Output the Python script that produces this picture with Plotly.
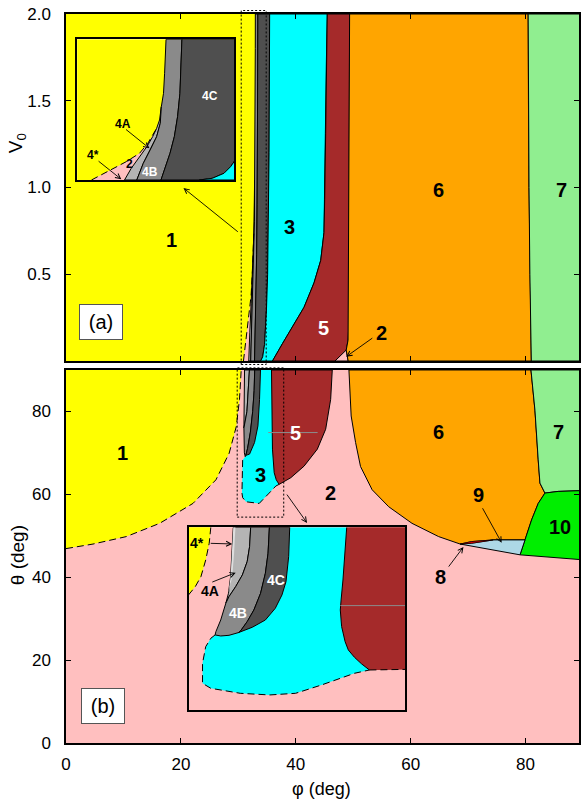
import plotly.graph_objects as go

FONT = "Liberation Sans, Arial, Helvetica, sans-serif"

# ---------------- axis ranges ----------------
PHI_RANGE = [0, 89.3]
V0_RANGE = [0, 2.0]
TH_RANGE = [0, 90]
INSET_A_PHI = [30.5, 34.85]
INSET_A_V0 = [0, 2.0]
INSET_B_PHI = [29.8, 37.9]
INSET_B_TH = [54.5, 90]
PHI_EDGE = 90.0

# ---------------- panel (a): phase boundaries, (phi [deg], V0) ----------------
# yellow / pink boundary (dashed), bottom -> apex
a_dash_phi = [30.895, 31.40, 31.86, 32.225, 32.455, 32.59, 32.70]
a_dash_v = [0.0, 0.133, 0.261, 0.379, 0.521, 0.640, 0.735]
# left edge of the grey band, apex -> top
a_gleft_phi = [32.70, 32.78, 32.83, 32.89, 32.92, 32.95, 32.96]
a_gleft_v = [0.735, 0.853, 1.043, 1.232, 1.517, 1.801, 2.0]
# pink / 4A, apex -> bottom
a_pr_phi = [32.70, 32.59, 32.43, 32.225, 31.996, 31.81]
a_pr_v = [0.735, 0.616, 0.474, 0.332, 0.166, 0.0]
# 4A / 4B, tip -> bottom
a_ab_phi = [32.83, 32.80, 32.70, 32.52, 32.33, 32.15]
a_ab_v = [1.043, 0.806, 0.616, 0.427, 0.237, 0.0]
# 4B / 4C, top -> bottom
a_bc_phi = [33.40, 33.38, 33.345, 33.28, 33.19, 33.07, 32.94, 32.82]
a_bc_v = [2.0, 1.611, 1.232, 0.900, 0.616, 0.379, 0.190, 0.0]
# 4C / 3, bottom -> top
a_cc_phi = [33.88, 34.24, 34.565, 34.75, 34.9, 35.1, 35.25, 35.35, 35.45]
a_cc_v = [0.0, 0.024, 0.095, 0.19, 0.3, 0.5, 0.8, 1.2, 2.0]
# 3 / 5, top -> bottom
a_cb_phi = [45.48, 45.31, 45.2, 45.03, 44.91, 44.34, 43.17, 41.44, 39.41, 37.68, 35.94]
a_cb_v = [2.0, 1.70, 1.31, 0.93, 0.74, 0.58, 0.45, 0.31, 0.20, 0.10, 0.0]
# 5 / 6, top -> bottom
a_bo_phi = [49.37, 49.3, 49.27, 49.25, 49.22, 49.1, 48.78]
a_bo_v = [2.0, 1.5, 1.0, 0.5, 0.2, 0.12, 0.063]
# small pocket of phase 2 between 5 and 6
a_tri_phi = [46.82, 48.78, 49.12]
a_tri_v = [0.0, 0.063, 0.0]
# 6 / 7, top -> bottom
a_og_phi = [80.45, 80.5, 80.6, 80.75, 81.0]
a_og_v = [2.0, 1.5, 1.0, 0.5, 0.0]

# ---------------- panel (b): phase boundaries, (phi, theta) [deg] ----------------
b_yel_phi = [0.0, 4.7, 10.5, 16.3, 22.1, 26.1, 28.4, 29.65, 30.2, 30.5]
b_yel_th = [46.9, 48.0, 49.8, 53.0, 57.8, 63.5, 69.9, 76.4, 82.9, 90.0]
# grey band 4A/4B/4C
b_l_phi = [31.08, 31.0, 30.97, 30.97, 31.05, 31.2]
b_l_th = [90.0, 84.0, 78.0, 72.0, 70.0, 69.1]
b_ab_phi = [31.93, 31.78, 31.5, 30.97]
b_ab_th = [90.0, 85.0, 80.0, 76.0]
b_bc_phi = [32.85, 32.75, 32.5, 32.1, 31.6, 31.3]
b_bc_th = [90.0, 85.0, 80.0, 75.0, 71.0, 69.4]
b_cc_phi = [33.86, 33.69, 33.41, 32.82, 31.95, 31.3]
b_cc_th = [90.0, 82.9, 76.5, 72.5, 69.7, 69.4]
# 3 / 5, top -> bottom
b_cb_phi = [35.77, 35.8, 35.94, 36.24, 36.6, 37.1]
b_cb_th = [90.0, 80.0, 70.9, 65.2, 63.5, 62.4]
# lower edge of 3 (dashed), from the 3/5 junction back to the grey tip
b_cyb_phi = [37.1, 36.53, 35.37, 33.63, 31.33, 30.75, 30.63, 30.63, 30.75, 31.2]
b_cyb_th = [62.4, 62.0, 60.3, 57.8, 58.2, 59.2, 60.3, 66.0, 68.3, 69.1]
# right edge of 5, bottom -> top
b_br_phi = [37.1, 39.13, 41.44, 43.75, 45.2, 46.07, 46.35]
b_br_th = [62.4, 64.0, 66.8, 70.9, 75.7, 82.9, 90.0]
# left edge of 6, top -> bottom
b_or_phi = [49.25, 49.64, 50.41, 51.27, 53.29, 56.18, 60.23, 64.86, 68.62]
b_or_th = [90.0, 78.9, 72.5, 66.7, 61.1, 57.0, 53.0, 49.8, 48.0]
# lower edge of 6, left -> right
b_obot_phi = [68.62, 70.63, 74.4, 79.9]
b_obot_th = [48.0, 48.6, 49.0, 49.0]
# lower edge of the sliver 8
b_redbot_phi = [68.62, 70.63, 74.4]
b_redbot_th = [48.0, 48.2, 49.0]
# left edge of 10, bottom -> top
b_10l_phi = [79.03, 79.9, 81.04, 82.2, 83.37]
b_10l_th = [45.4, 49.0, 53.8, 57.8, 60.3]
# 6 / 7, bottom -> top
b_o7_phi = [83.37, 82.5, 82.2, 81.63, 80.94]
b_o7_th = [60.3, 62.7, 68.3, 80.3, 90.0]
# 7 / 10
b_710_phi = [83.37, 85.67, 90.0]
b_710_th = [60.3, 60.7, 60.9]
# lower edge of 9 and 10
b_pl_phi = [68.9, 79.03, 90.0]
b_pl_th = [47.8, 45.4, 44.2]
# grey rule inside 5
b_gline_phi = [35.2, 43.8]
b_gline_th = [74.9, 74.9]

# ---------------- inset of panel (b) ----------------
ib_yel_phi = [30.63, 30.57, 30.44, 30.26, 30.05, 29.8, 29.6]
ib_yel_th = [90.0, 86.9, 83.65, 80.4, 78.47, 76.85, 75.6]
ib_l_phi = [31.47, 31.43, 31.37, 31.29, 31.19, 31.0, 30.82, 30.79]
ib_l_th = [90.0, 84.95, 80.41, 77.17, 75.23, 71.99, 69.72, 69.08]
ib_star_phi = [31.29, 31.43, 31.50, 31.55]
ib_star_th = [77.17, 80.41, 84.95, 90.0]
ib_ab_phi = [32.12, 32.08, 31.99, 31.81, 31.56, 31.31, 31.19]
ib_ab_th = [90.0, 86.24, 83.33, 80.74, 78.47, 76.53, 75.23]
ib_bc_phi = [32.82, 32.77, 32.67, 32.49, 32.24, 31.99, 31.74, 31.66]
ib_bc_th = [90.0, 84.95, 81.06, 77.17, 73.93, 71.67, 69.85, 69.53]
ib_cc_phi = [33.58, 33.54, 33.44, 33.29, 33.04, 32.67, 32.18, 31.66]
ib_cc_th = [90.0, 84.3, 79.44, 76.85, 74.26, 71.99, 70.57, 69.53]
ib_gbot_phi = [30.79, 31.0, 31.31, 31.66]
ib_gbot_th = [69.08, 68.88, 69.01, 69.53]
ib_cb_phi = [35.71, 35.65, 35.57, 35.50, 35.47, 35.52, 35.65, 35.77, 36.0, 36.27, 36.56]
ib_cb_th = [90.0, 84.95, 79.76, 75.88, 73.93, 70.70, 67.78, 66.16, 64.74, 63.44, 62.27]
ib_cyd_phi = [30.79, 30.63, 30.44, 30.32, 30.32, 30.63, 31.73, 32.83, 33.80, 34.77, 36.0, 36.56]
ib_cyd_th = [69.08, 68.43, 66.81, 63.57, 59.68, 58.71, 57.74, 57.42, 57.74, 59.36, 61.63, 62.27]
ib_bbot_phi = [36.56, 37.13, 37.9, 38.6]
ib_bbot_th = [62.27, 62.27, 62.40, 62.45]
ib_gline_phi = [35.47, 38.6]
ib_gline_th = [74.78, 74.78]

# zoom windows marked by dotted frames
DOT_A_PHI = [30.5, 34.85]
DOT_A_V0 = [-0.02, 2.02]
DOT_B_PHI = [29.8, 37.9]
DOT_B_TH = [54.5, 90.5]

# ---------------- colours ----------------
YELLOW = "#ffff00"
PINK = "#ffbfbf"
CYAN = "#00ffff"
BROWN = "#a52a2a"
ORANGE = "#ffa500"
LGREEN = "#90ee90"
GREEN = "#00ee00"
LBLUE = "#add8e6"
RED = "#ff0000"
G4S = "#dedede"
G4A = "#b4b4b4"
G4B = "#8a8a8a"
G4C = "#4f4f4f"

# ---------------- layout geometry ----------------
W, H = 582, 800
M_L, M_R, M_T, M_B = 66, 1, 14, 57
Y_DOM_B = [0.0, 0.5117]
Y_DOM_A = [0.524, 1.0]
INSET_A_DOM_X = [0.0219, 0.328]
INSET_A_DOM_Y = [0.7723, 0.9653]
INSET_B_DOM_X = [0.239, 0.6614]
INSET_B_DOM_Y = [0.0453, 0.2959]


def seg(xs, ys, start=0, stop=None, reverse=False):
    xs, ys = list(xs), list(ys)
    if reverse:
        xs, ys = xs[::-1], ys[::-1]
    return xs[start:stop], ys[start:stop]


def chain(*parts):
    X, Y = [], []
    for xs, ys in parts:
        X += xs
        Y += ys
    return X, Y


def region(pts, color, xa, ya, outline=1.0):
    xs, ys = pts
    return go.Scatter(
        x=xs + xs[:1], y=ys + ys[:1], xaxis=xa, yaxis=ya, mode="lines",
        fill="toself", fillcolor=color,
        line=dict(color="black" if outline else "rgba(0,0,0,0)", width=outline),
        hoverinfo="skip", showlegend=False)


def curve(pts, xa, ya, dash="solid", color="black", width=1.0):
    xs, ys = pts
    return go.Scatter(x=xs, y=ys, xaxis=xa, yaxis=ya, mode="lines",
                      line=dict(color=color, width=width, dash=dash),
                      hoverinfo="skip", showlegend=False)


def box(xr, yr):
    return ([xr[0], xr[1], xr[1], xr[0]], [yr[0], yr[0], yr[1], yr[1]])


DASH = "7px,4px"
traces = []


# ---------- panel (a) and its inset share the same boundaries ----------
def panel_a(xa, ya, xr, yr):
    t = []
    t.append(region(box([xr[0] - 1, PHI_EDGE], [yr[0] - 0.1, yr[1]]), YELLOW, xa, ya, 0))
    t.append(region(chain(seg(a_dash_phi, a_dash_v), seg(a_pr_phi, a_pr_v, 1)), PINK, xa, ya, 0))
    t.append(region(chain(seg(a_pr_phi, a_pr_v), seg(a_ab_phi, a_ab_v, reverse=True),
                          seg(a_gleft_phi[:2], a_gleft_v[:2], reverse=True)), G4A, xa, ya))
    t.append(region(chain(seg(a_gleft_phi, a_gleft_v, 2), seg(a_bc_phi, a_bc_v),
                          seg(a_ab_phi, a_ab_v, reverse=True)), G4B, xa, ya))
    t.append(region(chain(seg(a_bc_phi, a_bc_v), seg(a_cc_phi, a_cc_v)), G4C, xa, ya))
    t.append(region(chain(seg(a_cc_phi, a_cc_v), seg(a_cb_phi, a_cb_v)), CYAN, xa, ya))
    t.append(region(chain(seg(a_cb_phi, a_cb_v), seg(a_tri_phi, a_tri_v, 0, 1),
                          seg(a_bo_phi, a_bo_v, reverse=True)), BROWN, xa, ya))
    t.append(region(seg(a_tri_phi, a_tri_v), PINK, xa, ya))
    t.append(region(chain(seg(a_bo_phi, a_bo_v), seg(a_tri_phi, a_tri_v, 2),
                          seg(a_og_phi, a_og_v, reverse=True)), ORANGE, xa, ya))
    t.append(region(chain(seg(a_og_phi, a_og_v), ([PHI_EDGE, PHI_EDGE], [yr[0], yr[1]])),
                    LGREEN, xa, ya))
    t.append(curve(seg(a_dash_phi, a_dash_v), xa, ya, dash=DASH))
    return t


traces += panel_a("x2", "y2", PHI_RANGE, V0_RANGE)

# ---------- panel (b) ----------
traces.append(region(box([-1, PHI_EDGE], [-1, 91]), PINK, "x", "y", 0))
traces.append(region(chain(seg(b_yel_phi, b_yel_th), ([-1, -1], [90, b_yel_th[0]])), YELLOW, "x", "y", 0))
traces.append(curve(seg(b_yel_phi, b_yel_th), "x", "y", dash=DASH))
traces.append(region(chain(seg(b_cc_phi, b_cc_th, reverse=True), seg(b_cb_phi, b_cb_th),
                           seg(b_cyb_phi, b_cyb_th, 1)), CYAN, "x", "y", 0))
traces.append(region(chain(seg(b_cb_phi, b_cb_th), seg(b_br_phi, b_br_th, 1)), BROWN, "x", "y"))
traces.append(region(chain(seg(b_l_phi, b_l_th, 0, 3), seg(b_ab_phi, b_ab_th, reverse=True)), G4A, "x", "y"))
traces.append(region(chain(seg(b_ab_phi, b_ab_th), seg(b_l_phi, b_l_th, 3),
                           seg(b_bc_phi, b_bc_th, reverse=True)), G4B, "x", "y"))
traces.append(region(chain(seg(b_bc_phi, b_bc_th), seg(b_cc_phi, b_cc_th, 1, reverse=True)), G4C, "x", "y"))
traces.append(curve(seg(b_cyb_phi, b_cyb_th), "x", "y", dash=DASH))
traces.append(curve(seg(b_gline_phi, b_gline_th), "x", "y", color="#8c8c8c", width=1))
traces.append(region(chain(seg(b_or_phi, b_or_th), seg(b_obot_phi, b_obot_th, 1),
                           seg(b_10l_phi, b_10l_th, 2), seg(b_o7_phi, b_o7_th, 1)), ORANGE, "x", "y"))
traces.append(region(chain(seg(b_o7_phi, b_o7_th), ([PHI_EDGE], [90]),
                           seg(b_710_phi, b_710_th, 0, 2, reverse=True)), LGREEN, "x", "y"))
traces.append(region(chain(seg(b_10l_phi, b_10l_th), seg(b_710_phi, b_710_th, 1),
                           seg(b_pl_phi, b_pl_th, 2)), GREEN, "x", "y"))
traces.append(region(chain(seg(b_redbot_phi, b_redbot_th), seg(b_obot_phi, b_obot_th, 3),
                           seg(b_pl_phi[:2], b_pl_th[:2], reverse=True)), LBLUE, "x", "y"))
traces.append(region(chain(seg(b_obot_phi, b_obot_th, 0, 3),
                           seg(b_redbot_phi, b_redbot_th, 1, 2)), RED, "x", "y", 0.6))

# ---------- inset of panel (a) ----------
traces += panel_a("x3", "y3", INSET_A_PHI, INSET_A_V0)

# ---------- inset of panel (b) ----------
traces.append(region(box([29.0, 39.0], [50.0, 91.0]), PINK, "x4", "y4", 0))
traces.append(region(chain(seg(ib_yel_phi, ib_yel_th), ([29.0, 29.0], [ib_yel_th[-1], 91.0])),
                     YELLOW, "x4", "y4", 0))
traces.append(curve(seg(ib_yel_phi, ib_yel_th), "x4", "y4", dash=DASH))
traces.append(region(chain(seg(ib_cc_phi, ib_cc_th, reverse=True), seg(ib_cb_phi, ib_cb_th),
                           seg(ib_cyd_phi, ib_cyd_th, 1, reverse=True),
                           seg(ib_gbot_phi, ib_gbot_th, 1)), CYAN, "x4", "y4", 0))
traces.append(region(chain(seg(ib_cb_phi, ib_cb_th), seg(ib_bbot_phi, ib_bbot_th, 1),
                           ([ib_bbot_phi[-1]], [91.0])), BROWN, "x4", "y4", 0))
traces.append(curve(seg(ib_cb_phi, ib_cb_th), "x4", "y4"))
traces.append(curve(seg(ib_bbot_phi, ib_bbot_th), "x4", "y4", dash=DASH))
traces.append(curve(seg(ib_gline_phi, ib_gline_th), "x4", "y4", color="#8c8c8c", width=1))
traces.append(region(chain(seg(ib_l_phi, ib_l_th, 0, 5), seg(ib_ab_phi, ib_ab_th, 1, reverse=True)),
                     G4A, "x4", "y4"))
traces.append(region(chain(seg(ib_ab_phi, ib_ab_th), seg(ib_l_phi, ib_l_th, 5),
                           seg(ib_gbot_phi, ib_gbot_th, 1), seg(ib_bc_phi, ib_bc_th, 1, reverse=True)),
                     G4B, "x4", "y4"))
traces.append(region(chain(seg(ib_bc_phi, ib_bc_th), seg(ib_cc_phi, ib_cc_th, 1, reverse=True)),
                     G4C, "x4", "y4"))
traces.append(region(chain(seg(ib_l_phi, ib_l_th, 0, 4), seg(ib_star_phi, ib_star_th, 1)),
                     G4S, "x4", "y4", 0))
traces.append(curve(seg(ib_cyd_phi, ib_cyd_th), "x4", "y4", dash=DASH))

fig = go.Figure(traces)

# ---------------- axes ----------------
tickfont = dict(family=FONT, size=17, color="black")
frame = dict(showline=True, linecolor="black", linewidth=1.5, mirror="ticks",
             ticks="inside", ticklen=5, tickwidth=1, tickcolor="black",
             showgrid=False, zeroline=False, tickfont=tickfont)
inset_frame = dict(showline=True, linecolor="black", mirror=True, ticks="",
                   showticklabels=False, showgrid=False, zeroline=False)

fig.update_layout(
    width=W, height=H,
    margin=dict(l=M_L, r=M_R, t=M_T, b=M_B, pad=0),
    paper_bgcolor="white", plot_bgcolor="white",
    showlegend=False,
    xaxis=dict(frame, domain=[0, 1], range=PHI_RANGE, anchor="y",
               tickvals=[0, 20, 40, 60, 80], ticklabelstandoff=5),
    yaxis=dict(frame, domain=Y_DOM_B, range=TH_RANGE, anchor="x",
               tickvals=[0, 20, 40, 60, 80], ticklabelstandoff=10),
    xaxis2=dict(frame, domain=[0, 1], range=PHI_RANGE, anchor="y2",
                tickvals=[0, 20, 40, 60, 80], showticklabels=False),
    yaxis2=dict(frame, domain=Y_DOM_A, range=V0_RANGE, anchor="x2",
                tickvals=[0.5, 1.0, 1.5, 2.0], tickformat=".1f", ticklabelstandoff=10),
    xaxis3=dict(inset_frame, domain=INSET_A_DOM_X, range=INSET_A_PHI, anchor="y3", linewidth=1.5),
    yaxis3=dict(inset_frame, domain=INSET_A_DOM_Y, range=INSET_A_V0, anchor="x3", linewidth=1.5),
    xaxis4=dict(inset_frame, domain=INSET_B_DOM_X, range=INSET_B_PHI, anchor="y4", linewidth=2),
    yaxis4=dict(inset_frame, domain=INSET_B_DOM_Y, range=INSET_B_TH, anchor="x4", linewidth=2),
)


# dotted frames marking the magnified windows (y given in paper units so they may overhang)
def paper_y(val, dom, rng):
    return dom[0] + (val - rng[0]) / (rng[1] - rng[0]) * (dom[1] - dom[0])


dotted = dict(color="black", width=1, dash="2px,2px")
fig.add_shape(type="rect", xref="x2", yref="paper", layer="above",
              x0=DOT_A_PHI[0], x1=DOT_A_PHI[1],
              y0=paper_y(DOT_A_V0[0], Y_DOM_A, V0_RANGE), y1=paper_y(DOT_A_V0[1], Y_DOM_A, V0_RANGE),
              line=dotted)
fig.add_shape(type="rect", xref="x", yref="paper", layer="above",
              x0=DOT_B_PHI[0], x1=DOT_B_PHI[1],
              y0=paper_y(DOT_B_TH[0], Y_DOM_B, TH_RANGE), y1=paper_y(DOT_B_TH[1], Y_DOM_B, TH_RANGE),
              line=dotted)

# ---------------- labels ----------------
ann = []


def label(text, x, y, xa, ya, color="black", size=20, bold=True):
    t = f"<b>{text}</b>" if bold else text
    ann.append(dict(text=t, x=x, y=y, xref=xa, yref=ya, showarrow=False,
                    font=dict(family=FONT, size=size, color=color),
                    xanchor="center", yanchor="middle"))


def arrow(head, tail, xa, ya):
    ann.append(dict(text="", x=head[0], y=head[1], ax=tail[0], ay=tail[1],
                    xref=xa, yref=ya, axref=xa, ayref=ya, showarrow=True,
                    arrowhead=5, arrowsize=1.1, arrowwidth=0.9, arrowcolor="black",
                    standoff=0, startstandoff=0))


LABELS_A = [("1", 18.4, 0.70, "black"), ("3", 38.96, 0.774, "black"),
            ("5", 44.91, 0.19, "white"), ("2", 54.92, 0.161, "black"),
            ("6", 64.86, 0.986, "black"), ("7", 86.19, 0.986, "black")]
for t, x, y, c in LABELS_A:
    label(t, x, y, "x2", "y2", c)

LABELS_B = [("1", 9.92, 69.9, "black"), ("5", 40.0, 74.9, "white"),
            ("3", 33.93, 64.7, "black"), ("2", 46.07, 60.4, "black"),
            ("6", 64.86, 75.1, "black"), ("7", 85.79, 75.1, "black"),
            ("9", 71.8, 59.85, "black"), ("10", 85.97, 52.2, "black"),
            ("8", 65.2, 40.06, "black")]
for t, x, y, c in LABELS_B:
    label(t, x, y, "x", "y", c)

LABELS_IA = [("4C", 34.17, 1.198, "white"), ("4A", 31.77, 0.796, "black"),
             ("4*", 30.94, 0.355, "black"), ("2", 31.95, 0.227, "black"),
             ("4B", 32.52, 0.118, "white")]
for t, x, y, c in LABELS_IA:
    label(t, x, y, "x3", "y3", c, size=12)

LABELS_IB = [("4*", 30.13, 86.89, "black"), ("4A", 30.60, 77.68, "black"),
             ("4B", 31.65, 73.29, "white"), ("4C", 33.05, 79.76, "white")]
for t, x, y, c in LABELS_IB:
    label(t, x, y, "x4", "y4", c, size=14)

# arrows
arrow((20.45, 0.997), (30.17, 0.738), "x2", "y2")
arrow((48.78, 0.025), (53.58, 0.138), "x2", "y2")
arrow((32.50, 0.45), (31.81, 0.735), "x3", "y3")
arrow((31.72, 0.01), (31.05, 0.284), "x3", "y3")
arrow((41.96, 53.1), (38.27, 60.3), "x", "y")
arrow((75.84, 48.3), (72.37, 57.0), "x", "y")
arrow((69.19, 47.3), (66.42, 42.2), "x", "y")
arrow((31.43, 86.76), (30.57, 86.89), "x4", "y4")
arrow((31.56, 81.18), (30.63, 79.24), "x4", "y4")

# panel tags
for tag, x, y, xa, ya in [("(a)", 6.05, 0.222, "x2", "y2"), ("(b)", 6.49, 8.93, "x", "y")]:
    ann.append(dict(text=tag, x=x, y=y, xref=xa, yref=ya, showarrow=False,
                    font=dict(family=FONT, size=20, color="black"),
                    bgcolor="white", bordercolor="#555555", borderwidth=1,
                    width=40, height=32, borderpad=1,
                    xanchor="center", yanchor="middle"))

# axis titles
ann.append(dict(text="V<sub>0</sub>", x=-0.095, y=0.823, xref="paper", yref="paper",
                showarrow=False, textangle=-90, font=dict(family=FONT, size=19, color="black"),
                xanchor="center", yanchor="middle"))
ann.append(dict(text="θ (deg)", x=-0.093, y=0.258, xref="paper", yref="paper",
                showarrow=False, textangle=-90, font=dict(family=FONT, size=19, color="black"),
                xanchor="center", yanchor="middle"))
ann.append(dict(text="φ (deg)", x=0.498, y=-0.0625, xref="paper", yref="paper",
                showarrow=False, font=dict(family=FONT, size=18, color="black"),
                xanchor="center", yanchor="middle"))

fig.update_layout(annotations=ann)
fig.write_html("out.html")
